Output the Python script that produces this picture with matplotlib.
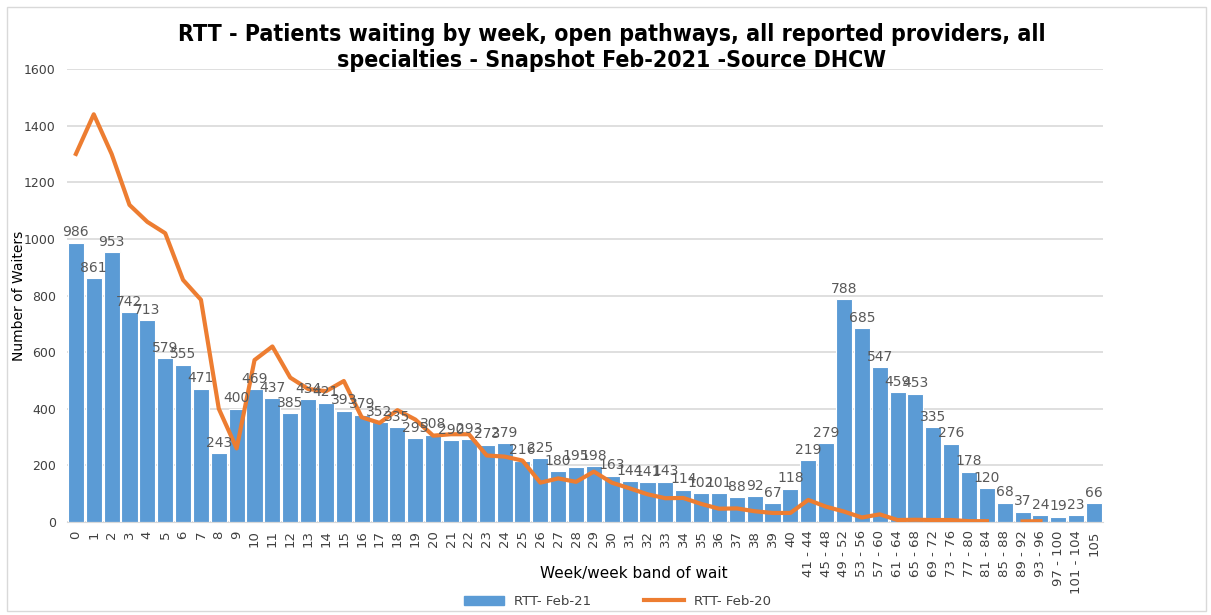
import matplotlib
matplotlib.use("Agg")
import matplotlib.pyplot as plt
import numpy as np
from matplotlib.lines import Line2D
from matplotlib.patches import Patch

categories = [str(i) for i in range(41)] + [
    "41 - 44", "45 - 48", "49 - 52", "53 - 56", "57 - 60", "61 - 64", "65 - 68",
    "69 - 72", "73 - 76", "77 - 80", "81 - 84", "85 - 88", "89 - 92", "93 - 96",
    "97 - 100", "101 - 104", "105"]

feb21 = [986, 861, 953, 742, 713, 579, 555, 471, 243, 400, 469, 437, 385, 434, 421,
         393, 379, 352, 335, 295, 308, 290, 293, 273, 279, 216, 225, 180, 195, 198,
         163, 144, 141, 143, 114, 102, 101, 88, 92, 67, 118,
         219, 279, 788, 685, 547, 459, 453, 335, 276, 178, 120, 68, 37, 24, 19, 23, 66]

feb20 = [1300, 1440, 1300, 1120, 1060, 1020, 855, 785, 400, 260, 572, 620, 510, 470,
         462, 498, 370, 350, 395, 362, 305, 310, 310, 235, 231, 217, 139, 154, 142,
         178, 139, 119, 98, 84, 85, 64, 47, 48, 38, 32, 32,
         78, 54, 37, 16, 27, 7, 8, 7, 7, 3, 3, np.nan, 2, 3, np.nan, np.nan, np.nan]

BLUE = "#5B9BD5"
ORANGE = "#ED7D31"
GREY = "#595959"

fig = plt.figure(figsize=(12.11, 6.15), dpi=100)
# chart border
fig.patches.append(plt.Rectangle((0.006, 0.006), 0.99, 0.982, transform=fig.transFigure,
                                 fill=False, edgecolor="#D9D9D9", linewidth=1))
ax = fig.add_axes([0.0553, 0.1512, 0.8555, 0.7366])

x = np.arange(len(categories))
ax.bar(x, feb21, width=0.9, color=BLUE, edgecolor="white", linewidth=0.8, zorder=2)
ax.plot(x, feb20, color=ORANGE, linewidth=3, zorder=3, solid_joinstyle="round")

for xi, v in zip(x, feb21):
    ax.text(xi, v + 12, str(v), ha="center", va="bottom", fontsize=10, color=GREY, zorder=4)

ax.set_xlim(-0.5, len(categories) - 0.5)
ax.set_ylim(0, 1600)
ax.set_yticks(np.arange(0, 1601, 200))
ax.yaxis.grid(True, color="#D9D9D9", linewidth=1.2, zorder=0)
ax.set_axisbelow(True)
for s in ["top", "right", "left"]:
    ax.spines[s].set_visible(False)
ax.spines["bottom"].set_color("#D9D9D9")
ax.tick_params(axis="both", length=0, labelsize=9, colors="#404040")
ax.tick_params(axis="y", pad=8)
ax.set_xticks(x)
ax.set_xticklabels(categories, rotation=90, fontsize=9.5, color="#404040")
ax.tick_params(axis="x", pad=6)

ax.set_ylabel("Number of Waiters", fontsize=10, color="black", labelpad=4)
ax.yaxis.set_label_coords(-0.04, 0.5)
fig.text(0.523, 0.068, "Week/week band of wait", ha="center", va="center", fontsize=11, color="black")

title_kw = dict(ha="center", va="center", fontsize=16.6, fontweight="bold",
                family="DejaVu Sans", fontstretch="condensed")
fig.text(0.505, 0.944, "RTT - Patients waiting by week, open pathways, all reported providers, all",
         **title_kw)
fig.text(0.505, 0.902, "specialties - Snapshot Feb-2021 -Source DHCW", **title_kw)

handles = [Patch(facecolor=BLUE, edgecolor=BLUE), Line2D([0], [0], color=ORANGE, linewidth=3)]
fig.legend(handles, ["RTT- Feb-21", "RTT- Feb-20"], loc="center", bbox_to_anchor=(0.51, 0.022),
           ncol=2, frameon=False, fontsize=9.5, handlelength=3, columnspacing=4,
           labelcolor="#404040")

fig.savefig("out.png", dpi=100)
